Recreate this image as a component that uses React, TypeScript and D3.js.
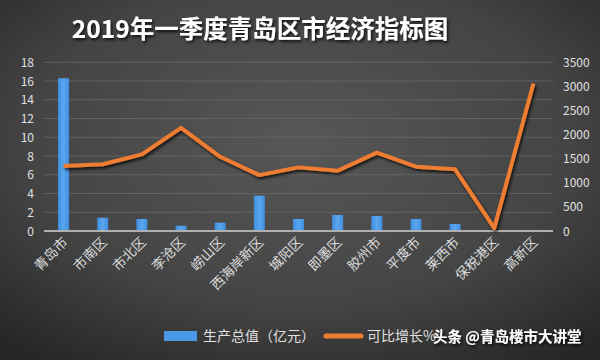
import React from "react";
import * as d3 from "d3";

const categories = ["青岛市", "市南区", "市北区", "李沧区", "崂山区", "西海岸新区", "城阳区", "即墨区", "胶州市", "平度市", "莱西市", "保税港区", "高新区"];
const gdpValues = [16.3, 1.42, 1.28, 0.57, 0.89, 3.77, 1.28, 1.71, 1.6, 1.28, 0.75, 0, 0];
const growthValues = [1350, 1385, 1590, 2140, 1540, 1160, 1320, 1250, 1625, 1335, 1280, 60, 3060];
const leftTicks = [0, 2, 4, 6, 8, 10, 12, 14, 16, 18];
const rightTicks = [0, 500, 1000, 1500, 2000, 2500, 3000, 3500];
const title = "2019年一季度青岛区市经济指标图";
const legendBar = "生产总值（亿元）";
const legendLine = "可比增长%";
const watermark = "头条 @青岛楼市大讲堂";

const W = 600, H = 360;
const plot = { left: 44, right: 553, top: 62.3, bottom: 231 };
const FONT = "'Noto Sans CJK SC', 'Noto Sans', sans-serif";

export default function App() {
  const x = d3.scaleBand<string>().domain(categories).range([plot.left, plot.right]).paddingInner(0).paddingOuter(0);
  const yL = d3.scaleLinear().domain([0, 18]).range([plot.bottom, plot.top]);
  const yR = d3.scaleLinear().domain([0, 3500]).range([plot.bottom, plot.top]);
  const barW = 11;
  const line = d3.line<number>()
    .x((_, i) => (x(categories[i]) as number) + x.bandwidth() / 2)
    .y((d) => yR(d));

  return (
    <svg width={W} height={H} style={{ position: "absolute", left: 0, top: 0, display: "block" }}>
      <defs>
        <radialGradient id="bg" cx="50%" cy="40%" r="75%">
          <stop offset="0%" stopColor="#575757" />
          <stop offset="60%" stopColor="#444444" />
          <stop offset="100%" stopColor="#252525" />
        </radialGradient>
        <linearGradient id="barg" x1="0" y1="0" x2="1" y2="0">
          <stop offset="0%" stopColor="#3f8ee0" />
          <stop offset="50%" stopColor="#5aa6ee" />
          <stop offset="100%" stopColor="#3f8ee0" />
        </linearGradient>
        <filter id="shadow" x="-10%" y="-30%" width="120%" height="160%">
          <feDropShadow dx="1.5" dy="2" stdDeviation="1.5" floodColor="#000" floodOpacity="0.8" />
        </filter>
      </defs>
      <rect x={0} y={0} width={W} height={H} fill="url(#bg)" />
      <text x={260} y={38} textAnchor="middle" fill="#ffffff" fontFamily={FONT} fontWeight="bold" fontSize={24.5} filter="url(#shadow)">{title}</text>

      {leftTicks.map((t) => (
        <g key={"l" + t}>
          {t > 0 && <line x1={plot.left} x2={plot.right} y1={yL(t)} y2={yL(t)} stroke="#6a6a6a" strokeWidth={0.8} />}
          <text x={34} y={yL(t) + 4.5} textAnchor="end" fill="#e0e0e0" fontFamily={FONT} fontSize={12}>{t}</text>
        </g>
      ))}
      {rightTicks.map((t) => (
        <text key={"r" + t} x={563} y={yR(t) + 4.5} textAnchor="start" fill="#e0e0e0" fontFamily={FONT} fontSize={12}>{t}</text>
      ))}

      {categories.map((c, i) => {
        const v = gdpValues[i];
        if (v <= 0) return null;
        const cx = (x(c) as number) + x.bandwidth() / 2;
        return <rect key={c} x={cx - barW / 2} y={yL(v)} width={barW} height={yL(0) - yL(v)} fill="url(#barg)" />;
      })}

      <line x1={plot.left} x2={plot.right} y1={plot.bottom} y2={plot.bottom} stroke="#b0b0b0" strokeWidth={2} />

      <path d={line(growthValues) as string} fill="none" stroke="#ed7d31" strokeWidth={4} strokeLinejoin="round" filter="url(#shadow)" />

      {categories.map((c) => {
        const cx = (x(c) as number) + x.bandwidth() / 2 + 5;
        return (
          <text key={"t" + c} transform={`translate(${cx},${243}) rotate(-45)`} textAnchor="end" fill="#dddddd" fontFamily={FONT} fontSize={13.5}>{c}</text>
        );
      })}

      <rect x={164} y={331} width={33} height={10} fill="#4a98e6" />
      <text x={203} y={341} fill="#e0e0e0" fontFamily={FONT} fontSize={14}>{legendBar}</text>
      <line x1={326} x2={361} y1={336} y2={336} stroke="#ed7d31" strokeWidth={5} strokeLinecap="round" />
      <text x={367} y={341} fill="#e0e0e0" fontFamily={FONT} fontSize={14}>{legendLine}</text>
      <text x={433} y={342} fill="#ffffff" fontFamily={FONT} fontSize={14.5} fontWeight="bold" filter="url(#shadow)">{watermark}</text>
    </svg>
  );
}
